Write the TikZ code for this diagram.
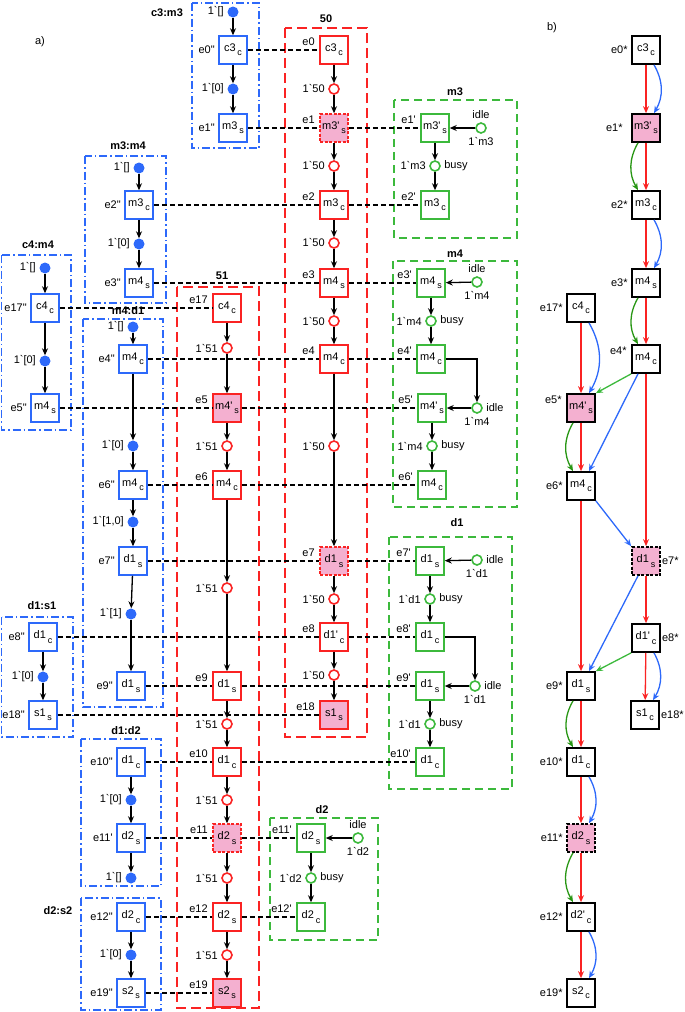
\documentclass[tikz,border=0pt]{standalone}
\usepackage{fontspec}
\defaultfontfeatures[\rmfamily,\sffamily]{}
\setmainfont{Liberation Sans}
\usetikzlibrary{arrows.meta}
\definecolor{petriblue}{RGB}{45,105,250}
\definecolor{petrired}{RGB}{250,35,35}
\definecolor{petrigreen}{RGB}{60,185,60}
\definecolor{darkgreen}{RGB}{40,150,20}
\definecolor{firedpink}{RGB}{244,176,208}
\newcommand{\grv}{\symbol{96}}
\newcommand{\dpr}{\symbol{34}}
\newcommand{\ev}[2]{#1\,\raisebox{-0.75ex}{\fontsize{9}{9}\selectfont #2}}
\tikzset{
	trans node/.style={rectangle,draw,line width=1.5pt,minimum size=28pt,inner sep=1pt,fill=white},
	blue trans/.style={trans node,draw=petriblue},
	red trans/.style={trans node,draw=petrired},
	green trans/.style={trans node,draw=petrigreen},
	event node/.style={trans node,draw=black,line width=1.7pt},
	fired/.style={fill=firedpink},
	cutoff/.style={dash pattern=on 3pt off 1.5pt},
	token place/.style={circle,fill=petriblue,minimum size=11pt,inner sep=0pt},
	red place/.style={circle,draw=petrired,fill=white,line width=1.6pt,minimum size=10pt,inner sep=0pt},
	green place/.style={circle,draw=petrigreen,fill=white,line width=1.6pt,minimum size=10pt,inner sep=0pt},
	flow/.style={->,line width=1.3pt},
	sync/.style={line width=1.3pt,dash pattern=on 5pt off 3pt},
	blue frame/.style={draw=petriblue,line width=1.5pt,dash pattern=on 8pt off 3pt on 1.5pt off 3pt},
	red frame/.style={draw=petrired,line width=1.5pt,dash pattern=on 10pt off 5pt},
	green frame/.style={draw=petrigreen,line width=1.5pt,dash pattern=on 8pt off 5pt},
	frame title/.style={font=\fontsize{11}{12}\selectfont\bfseries},
	evleft/.style={label={[label distance=0pt]left:#1}},
	evup/.style={label={[label distance=1pt,yshift=8pt]left:#1}},
	evright/.style={label={[label distance=0pt,inner sep=1pt]right:#1}},
	red arc/.style={->,line width=1.3pt,draw=petrired},
	blue arc/.style={->,line width=1.3pt,draw=petriblue},
	green arc/.style={->,line width=1.3pt,draw=darkgreen},
	light arc/.style={->,line width=1.3pt,draw=petrigreen}
}

\begin{document}
\begin{tikzpicture}[x=1pt,y=-1pt,>={Stealth[length=7pt,width=6pt]},
	every node/.style={font=\fontsize{11}{12}\selectfont}]
	\useasboundingbox (0,0) rectangle (685,1012);
	\node (pa) at (40,42) {a)};
	\node (pb) at (552,28) {b)};

	% frames
	\draw[blue frame] (192,3) rectangle (259,148);
	\draw[blue frame] (85,156) rectangle (166,303);
	\draw[blue frame] (1.5,255) rectangle (71,430);
	\draw[blue frame] (83,319) rectangle (163,707);
	\draw[blue frame] (1.5,617) rectangle (73,737);
	\draw[blue frame] (81,739) rectangle (161,886);
	\draw[blue frame] (81,898) rectangle (161,1010);
	\draw[red frame] (285,28) rectangle (367,737);
	\draw[red frame] (177,287) rectangle (259,1008);
	\draw[green frame] (394,100) rectangle (517,238);
	\draw[green frame] (393,261) rectangle (517,507);
	\draw[green frame] (389,537) rectangle (512,789);
	\draw[green frame] (270,818) rectangle (378,940);
	\node[frame title] (tc3m3) at (167,13) {c3:m3};
	\node[frame title] (tm3m4) at (128,146) {m3:m4};
	\node[frame title] (tc4m4) at (38,245) {c4:m4};
	\node[frame title] (tm4d1) at (128,311) {m4:d1};
	\node[frame title] (td1s1) at (42,606) {d1:s1};
	\node[frame title] (td1d2) at (126,731) {d1:d2};
	\node[frame title] (td2s2) at (58,911) {d2:s2};
	\node[frame title] (t50) at (326,19) {50};
	\node[frame title] (t51) at (222,276) {51};
	\node[frame title] (tm3) at (455,92) {m3};
	\node[frame title] (tm4) at (455,254) {m4};
	\node[frame title] (td1) at (457,523) {d1};
	\node[frame title] (td2) at (322,810) {d2};

	% blue components
	\node[token place,label={left:{1\grv[]}}] (bq0) at (233,12) {};
	\node[blue trans,evleft={e0\dpr}] (b0) at (233,50) {\ev{c3}{c}};
	\node[token place,label={left:{1\grv[0]}}] (bq1) at (233,89) {};
	\node[blue trans,evleft={e1\dpr}] (b1) at (233,128) {\ev{m3}{s}};
	\node[token place,label={left:{1\grv[]}}] (bq2) at (139,168) {};
	\node[blue trans,evleft={e2\dpr}] (b2) at (139,205) {\ev{m3}{c}};
	\node[token place,label={left:{1\grv[0]}}] (bq3) at (139,244) {};
	\node[blue trans,evleft={e3\dpr}] (b3) at (139,283) {\ev{m4}{s}};
	\node[token place,label={left:{1\grv[]}}] (bq4) at (45,268) {};
	\node[blue trans,evleft={e17\dpr}] (b17) at (45,308) {\ev{c4}{c}};
	\node[token place,label={left:{1\grv[0]}}] (bq5) at (45,361) {};
	\node[blue trans,evleft={e5\dpr}] (b5) at (45,408) {\ev{m4}{s}};
	\node[token place,label={left:{1\grv[]}}] (bq6) at (133,327) {};
	\node[blue trans,evleft={e4\dpr}] (b4) at (133,359) {\ev{m4}{c}};
	\node[token place,label={left:{1\grv[0]}}] (bq7) at (133,446) {};
	\node[blue trans,evleft={e6\dpr}] (b6) at (133,485) {\ev{m4}{c}};
	\node[token place,label={left:{1\grv[1,0]}}] (bq8) at (133,522) {};
	\node[blue trans,evleft={e7\dpr}] (b7) at (133,561) {\ev{d1}{s}};
	\node[token place,label={left:{1\grv[1]}}] (bq9) at (131,614) {};
	\node[blue trans,evleft={e9\dpr}] (b9) at (131,686) {\ev{d1}{s}};
	\node[blue trans,evleft={e8\dpr}] (b8) at (43,637) {\ev{d1}{c}};
	\node[token place,label={left:{1\grv[0]}}] (bq10) at (43,677) {};
	\node[blue trans,evleft={e18\dpr}] (b18) at (43,715) {\ev{s1}{s}};
	\node[blue trans,evleft={e10\dpr}] (b10) at (131,762) {\ev{d1}{c}};
	\node[token place,label={left:{1\grv[0]}}] (bq11) at (131,800) {};
	\node[blue trans,evleft={e11'}] (b11) at (131,838) {\ev{d2}{s}};
	\node[token place,label={left:{1\grv[]}}] (bq12) at (131,878) {};
	\node[blue trans,evleft={e12\dpr}] (b12) at (131,917) {\ev{d2}{c}};
	\node[token place,label={left:{1\grv[0]}}] (bq13) at (131,955) {};
	\node[blue trans,evleft={e19\dpr}] (b19) at (131,993) {\ev{s2}{s}};
	\foreach \a/\b in {bq0/b0,b0/bq1,bq1/b1,bq2/b2,b2/bq3,bq3/b3,bq4/b17,b17/bq5,bq5/b5,
		bq6/b4,b4/bq7,bq7/b6,b6/bq8,bq8/b7,b7/bq9,bq9/b9,b8/bq10,bq10/b18,
		b10/bq11,bq11/b11,b11/bq12,b12/bq13,bq13/b19}
		\draw[flow] (\a) -- (\b);

	% red column 50
	\node[red trans,evup=e0] (r0) at (334,50) {\ev{c3}{c}};
	\node[red place,label={left:{1\grv50}}] (rq1) at (334,89) {};
	\node[red trans,fired,cutoff,evup=e1] (r1) at (334,128) {\ev{m3'}{s}};
	\node[red place,label={left:{1\grv50}}] (rq2) at (334,166) {};
	\node[red trans,evup=e2] (r2) at (334,205) {\ev{m3}{c}};
	\node[red place,label={left:{1\grv50}}] (rq3) at (334,243) {};
	\node[red trans,evup=e3] (r3) at (334,283) {\ev{m4}{s}};
	\node[red place,label={left:{1\grv50}}] (rq4) at (334,321) {};
	\node[red trans,evup=e4] (r4) at (334,359) {\ev{m4}{c}};
	\node[red place,label={left:{1\grv50}}] (rq5) at (334,446) {};
	\node[red trans,fired,cutoff,evup=e7] (r7) at (334,561) {\ev{d1}{s}};
	\node[red place,label={left:{1\grv50}}] (rq6) at (334,599) {};
	\node[red trans,evup=e8] (r8) at (334,637) {\ev{d1'}{c}};
	\node[red place,label={left:{1\grv50}}] (rq7) at (334,675) {};
	\node[red trans,fired,evup=e18] (r18) at (334,715) {\ev{s1}{s}};
	\foreach \a/\b in {r0/rq1,rq1/r1,r1/rq2,rq2/r2,r2/rq3,rq3/r3,r3/rq4,rq4/r4,r4/rq5,
		rq5/r7,r7/rq6,rq6/r8,r8/rq7,rq7/r18}
		\draw[flow] (\a) -- (\b);

	% red column 51
	\node[red trans,evup=e17] (r17) at (227,308) {\ev{c4}{c}};
	\node[red place,label={left:{1\grv51}}] (sq1) at (227,348) {};
	\node[red trans,fired,evup=e5] (r5) at (227,408) {\ev{m4'}{s}};
	\node[red place,label={left:{1\grv51}}] (sq2) at (227,446) {};
	\node[red trans,evup=e6] (r6) at (227,485) {\ev{m4}{c}};
	\node[red place,label={left:{1\grv51}}] (sq3) at (227,588) {};
	\node[red trans,evup=e9] (r9) at (227,686) {\ev{d1}{s}};
	\node[red place,label={left:{1\grv51}}] (sq4) at (227,724) {};
	\node[red trans,evup=e10] (r10) at (227,762) {\ev{d1}{c}};
	\node[red place,label={left:{1\grv51}}] (sq5) at (227,800) {};
	\node[red trans,fired,cutoff,evup=e11] (r11) at (227,838) {\ev{d2}{s}};
	\node[red place,label={left:{1\grv51}}] (sq6) at (227,878) {};
	\node[red trans,evup=e12] (r12) at (227,917) {\ev{d2}{s}};
	\node[red place,label={left:{1\grv51}}] (sq7) at (227,955) {};
	\node[red trans,fired,evup=e19] (r19) at (227,993) {\ev{s2}{s}};
	\foreach \a/\b in {r17/sq1,sq1/r5,r5/sq2,sq2/r6,r6/sq3,sq3/r9,r9/sq4,sq4/r10,
		r10/sq5,sq5/r11,r11/sq6,sq6/r12,r12/sq7,sq7/r19}
		\draw[flow] (\a) -- (\b);

	% green resources
	\node[green trans,evup={e1'}] (g1) at (435,128) {\ev{m3'}{s}};
	\node[green place,label={above:idle},label={below:{1\grv m3}}] (gi1) at (481,128) {};
	\node[green place,label={left:{1\grv m3}},label={right:busy}] (gb1) at (435,166) {};
	\node[green trans,evup={e2'}] (g2) at (435,205) {\ev{m3}{c}};
	\node[green trans,evup={e3'}] (g3) at (431,283) {\ev{m4}{s}};
	\node[green place,label={above:idle},label={below:{1\grv m4}}] (gi2) at (477,282) {};
	\node[green place,label={left:{1\grv m4}},label={right:busy}] (gb2) at (431,321) {};
	\node[green trans,evup={e4'}] (g4) at (431,359) {\ev{m4}{c}};
	\node[green place,label={right:idle},label={below:{1\grv m4}}] (gi3) at (477,408) {};
	\node[green trans,evup={e5'}] (g5) at (432,408) {\ev{m4'}{s}};
	\node[green place,label={left:{1\grv m4}},label={right:busy}] (gb3) at (432,446) {};
	\node[green trans,evup={e6'}] (g6) at (432,485) {\ev{m4}{c}};
	\node[green trans,evup={e7'}] (g7) at (430,561) {\ev{d1}{s}};
	\node[green place,label={right:idle},label={below:{1\grv d1}}] (gi4) at (477,560) {};
	\node[green place,label={left:{1\grv d1}},label={right:busy}] (gb4) at (430,599) {};
	\node[green trans,evup={e8'}] (g8) at (430,637) {\ev{d1}{c}};
	\node[green place,label={right:idle},label={below:{1\grv d1}}] (gi5) at (475,686) {};
	\node[green trans,evup={e9'}] (g9) at (430,686) {\ev{d1}{s}};
	\node[green place,label={left:{1\grv d1}},label={right:busy}] (gb5) at (430,724) {};
	\node[green trans,evup={e10'}] (g10) at (430,762) {\ev{d1}{c}};
	\node[green trans,evup={e11'}] (g11) at (311,838) {\ev{d2}{s}};
	\node[green place,label={above:idle},label={below:{1\grv d2}}] (gi6) at (358,838) {};
	\node[green place,label={left:{1\grv d2}},label={right:busy}] (gb6) at (311,878) {};
	\node[green trans,evup={e12'}] (g12) at (311,917) {\ev{d2}{c}};
	\foreach \a/\b in {gi1/g1,g1/gb1,gb1/g2,gi2/g3,g3/gb2,gb2/g4,gi3/g5,g5/gb3,gb3/g6,
		gi4/g7,g7/gb4,gb4/g8,gi5/g9,g9/gb5,gb5/g10,gi6/g11,g11/gb6,gb6/g12}
		\draw[flow] (\a) -- (\b);
	\draw[flow] (g4) -| (gi3);
	\draw[flow] (g8) -| (gi5);

	% synchronisations
	\foreach \a/\b in {b0/r0,b1/r1,r1/g1,b2/r2,r2/g2,b3/r3,r3/g3,b17/r17,b4/r4,r4/g4,
		b5/r5,r5/g5,b6/r6,r6/g6,b7/r7,r7/g7,b8/r8,r8/g8,b9/r9,r9/g9,b18/r18,
		b10/r10,r10/g10,b11/r11,r11/g11,b12/r12,r12/g12,b19/r19}
		\draw[sync] (\a) -- (\b);

	% b) ordering of events
	\node[event node,evleft={e0*}] (s0) at (646,50) {\ev{c3}{c}};
	\node[event node,fired,label={[label distance=5pt]left:e1*}] (s1) at (646,128) {\ev{m3'}{s}};
	\node[event node,evleft={e2*}] (s2) at (646,205) {\ev{m3}{c}};
	\node[event node,evleft={e3*}] (s3) at (646,283) {\ev{m4}{s}};
	\node[event node,evleft={e17*}] (s17) at (581,308) {\ev{c4}{c}};
	\node[event node,evup={e4*}] (s4) at (646,359) {\ev{m4}{c}};
	\node[event node,fired,evup={e5*}] (s5) at (581,408) {\ev{m4'}{s}};
	\node[event node,evleft={e6*}] (s6) at (581,486) {\ev{m4}{c}};
	\node[event node,fired,cutoff,evright={e7*}] (s7) at (646,561) {\ev{d1}{s}};
	\node[event node,evright={e8*}] (s8) at (646,638) {\ev{d1'}{c}};
	\node[event node,evleft={e9*}] (s9) at (581,686) {\ev{d1}{s}};
	\node[event node,evright={e18*}] (s18) at (645,715) {\ev{s1}{c}};
	\node[event node,evleft={e10*}] (s10) at (581,762) {\ev{d1}{c}};
	\node[event node,fired,cutoff,evleft={e11*}] (s11) at (581,838) {\ev{d2}{s}};
	\node[event node,evleft={e12*}] (s12) at (581,917) {\ev{d2'}{c}};
	\node[event node,evleft={e19*}] (s19) at (581,993) {\ev{s2}{c}};
	\foreach \a/\b in {s0/s1,s1/s2,s2/s3,s3/s4,s4/s7,s7/s8,s8/s18,s17/s5,s5/s6,s6/s9,
		s9/s10,s10/s11,s11/s12,s12/s19}
		\draw[red arc] (\a) -- (\b);
	\foreach \a/\b in {s0/s1,s2/s3,s17/s5,s8/s18,s10/s11,s12/s19}
		\draw[blue arc] ([xshift=8pt]\a.south) to[bend left=30] ([xshift=8pt]\b.north);
	\foreach \a/\b in {s1/s2,s3/s4,s5/s6,s9/s10,s11/s12}
		\draw[green arc] ([xshift=-8pt]\a.south) to[bend right=30] ([xshift=-8pt]\b.north);
	\draw[blue arc] ([xshift=-8pt]s4.south) -- ([xshift=8pt]s6.north);
	\draw[blue arc] (s6.south east) -- (s7.north west);
	\draw[blue arc] ([xshift=-8pt]s7.south) -- ([xshift=8pt]s9.north);
	\draw[light arc] (s4.south west) -- (s5.north east);
	\draw[light arc] (s8.south west) -- (s9.north east);
\end{tikzpicture}
\end{document}
